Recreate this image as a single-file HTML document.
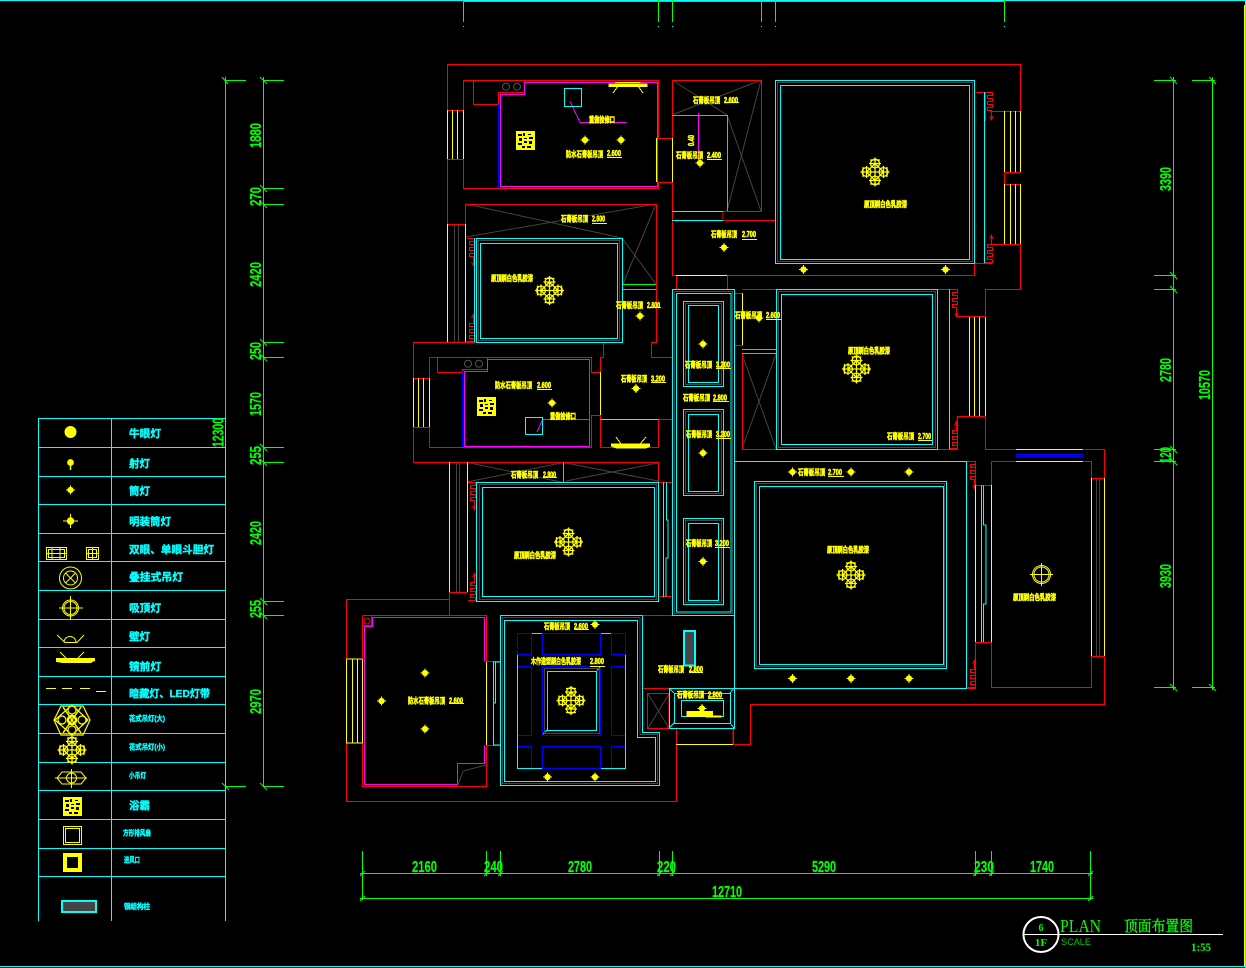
<!DOCTYPE html>
<html><head><meta charset="utf-8"><title>顶面布置图</title>
<style>
html,body{margin:0;padding:0;background:#000;width:1246px;height:968px;overflow:hidden}
svg{display:block}
.l{fill:none;shape-rendering:crispEdges;stroke-width:1}
.ge{shape-rendering:geometricPrecision}
text{font-family:"Liberation Sans","Noto Sans CJK SC",sans-serif}
.t{fill:#ff0;stroke:#ff0;stroke-width:.6;font-size:7.8px;font-weight:700}
.k{fill:#0ff;stroke:#0ff;stroke-width:.4;font-size:10.5px;font-weight:700}
.s{font-size:7.5px}
.g{fill:#0f0;stroke:#0f0;stroke-width:.2;font-family:"Liberation Serif","Noto Serif CJK SC",serif;font-size:16px;font-weight:700}
</style></head><body>
<svg width="1246" height="968" viewBox="0 0 1246 968" xmlns="http://www.w3.org/2000/svg">
<defs>
<g id="d" fill="#ff0" stroke="#ff0"><circle r="2.6"/><path d="M-4.5 0H4.5M0-4.5V4.5" fill="none"/></g>
<g id="c" fill="none" stroke="#ff0" stroke-width="1.3">
<circle cx="0" cy="-8.5" r="4.4"/><circle cx="0" cy="8.5" r="4.4"/><circle cx="-8.5" cy="0" r="4.4"/><circle cx="8.5" cy="0" r="4.4"/>
<path d="M-14.5 0H14.5M0-14.5V14.5M-6-8.5H6M-6 8.5H6M-8.5-6V6M8.5-6V6M-5-12H5M-5 12H5M-12-5V5M12-5V5M0-8.5L8.5 0L0 8.5L-8.5 0Z"/>
</g>
<g id="b"><rect width="19" height="19" fill="#ff0"/>
<path d="M2 3h4v2H2zM7 2h2v3H7zM12 3h3v1h-3zM13 6h4v2h-4zM3 7h3v3H3zM8 7h3v1H8zM8 10h3v2H8zM13 10h3v3h-3zM2 12h4v2H2zM6 15h3v2H6zM11 15h4v2h-4z" fill="#000"/></g>
<path id="w" d="M0 0.5H7.5V3.5H2.5V6.5H7.5V9.5H2.5V12.5H7.5V15.5H2.5V18.5H6.5V23M6.5 28V21M4.5 24L6.5 28L8 24" fill="none" stroke="#f00" class="l"/>
</defs>
<rect width="1246" height="968" fill="#000"/>

<!-- sheet edges -->
<path class="l" stroke="#0ff" d="M0 .5H1246M0 966.5H1246"/>
<path class="l" stroke="#ff0" d="M1244.5 5V966"/>
<path class="l" stroke="#0ff" d="M1245.5 0V968"/>
<path class="l" stroke="#0f0" d="M463 1.5H1005M463.5 0V22M658.5 0V22M672.5 0V22M761.5 0V22M775.5 0V22M1004.5 0V22"/>
<path class="l" stroke="#0ff" d="M463 26.5h1M658 26.5h1M672 26.5h1M761 26.5h1M775 26.5h1M1004 26.5h1"/>

<!-- gray structural -->
<path class="l ge" stroke="#444" d="M466 237L656 204M466 204L622 238M622 238L656 284M656 204L623 284M672 115L761 80M672 80L727 115M727 115L761 211M761 80L727 211M470 463L561 482M561 463L467 482M566 463L658 481M658 463L566 481M742 354L776 449M776 354L742 449M648 694L669 728M669 694L648 728M458 785L463 771L486 765"/>
<path class="l" stroke="#444" d="M454.5 224V342M458.5 224V342M456.5 462V592M459.5 462V592M1096.5 478V656M1099.5 478V656"/>
<circle cx="506" cy="86.7" r="3.5" fill="none" stroke="#555"/><circle cx="517" cy="86.7" r="3.5" fill="none" stroke="#555"/>
<circle cx="468" cy="363.7" r="3.5" fill="none" stroke="#555"/><circle cx="479" cy="363.7" r="3.5" fill="none" stroke="#555"/>

<!-- red walls -->
<path class="l" stroke="#f00" d="
M447.5 64.5H1020.5V111.5M1020.5 244.5V289.5H985.5V316.5M985.5 416.5V449.5H1016.5M1083.5 449.5H1104.5V478.5M1104.5 656.5V704.5H750.5V744.5H733.5V728.5
M676.5 728.5V801.5H346.5V599.5H449.5V592.5H467.5
M413.5 462.5H658.5V482.5H672M413.5 462.5V427.5H430M413.5 378.5V342.5H603.5V357.5H600.5V372.5M430 378.5H413.5
M447.5 64.5V110.5M447.5 159.5V224.5H465.5M447 110.5H463.5M447 159.5H463.5
M463.5 80.5V188.5H658.5V182.5H672.5M658.5 138.5H672.5M658.5 138.5V80.5H463.5M473.5 80.5V104.5H498.5V92.5H524.5V80.5
M465.5 204.5V238M465.5 204.5H656.5V342.5H651.5V357.5H672
M672.5 80.5H761.5V211.5H723V220.5H775M672.5 80.5V138M672.5 182V275.5H974.5V263.5M672.5 220.5V211.5
M676.5 275.5V289.5M727.5 275.5V289.5M742.5 289.5H776M937.5 289.5H950M742.5 293.5H735M742.5 345.5H735M742.5 353V449.5H776M937.5 449.5H957.5V416.5H985M957.5 316.5H985M975 92.5H985M992 111.5H1020.5M992 244.5H1020.5M975 263.5H992M1004.5 172.5H1020.5M1004.5 184.5H1020.5M985.5 92.5V121M1004.5 172.5V184.5
M429.5 357.5H591.5V372.5H600.5M429.5 357.5V447.5H591.5V415.5H600.5V447.5H658.5V419.5H672M437.5 357.5V372.5H462.5V369.5H487.5V357.5
M966.5 461.5H975.5M975.5 461.5V485.5H991.5M975.5 642.5H991.5M975.5 642.5V688.5H967M991.5 461.5H1016.5M1083.5 461.5H1091.5V478.5H1104.5M991.5 461.5V687.5H1091.5V656.5H1104.5
M658.5 596.5H672M642.5 615.5H672M642.5 688.5H669M647.5 693.5H669V728.5H647.5ZM676.5 728.5H669M449.5 599.5V615M362.5 615.5H486.5V661.5H500M486.5 745.5H500M486.5 745.5V786.5H362.5V615.5M362.5 625.5H371.5V615.5M733 744.5V728"/>
<circle cx="367" cy="621" r="3" fill="none" stroke="#f00"/>
<use href="#w" transform="translate(467,238)"/><use href="#w" transform="translate(467,342) scale(1,-1)"/>
<use href="#w" transform="translate(468,482)"/><use href="#w" transform="translate(468,601) scale(1,-1)"/>
<use href="#w" transform="translate(985,92)"/><use href="#w" transform="translate(985,263) scale(1,-1)"/>
<use href="#w" transform="translate(950,289)"/><use href="#w" transform="translate(950,449) scale(1,-1)"/>
<use href="#w" transform="translate(968,461)"/><use href="#w" transform="translate(968,688) scale(1,-1)"/>

<!-- yellow windows / doors -->
<path class="l" stroke="#ff0" d="M447.5 110V159M452.5 110V159M457.5 110V159M463.5 110V159
M447.5 224V342M465.5 224V342M449.5 462V592M467.5 462V592M413.5 378V427M418.5 378V427M423.5 378V427M429.5 378V427
M346.5 659V743M352.5 659V743M357.5 659V743M362.5 659V743H346M346 659H362
M656.5 138V182M672.5 138V182M589.5 372V415M600.5 372V415M486.5 662V745
M1004.5 111V172M1010.5 111V172M1015.5 111V172M1020.5 111V172M1004.5 184V244M1010.5 184V244M1015.5 184V244M1020.5 184V244
M969.5 317V416M974.5 317V416M979.5 317V416M985.5 317V416M742.5 293V345M676 275.5H727M975.5 485V642M991.5 485V642
M1016 449.5H1083M1016 461.5H1083M1091.5 478V656M1104.5 478V656M676 744.5H733"/>
<path class="l" stroke="#00f" d="M498.5 104V188M462.5 371V447M1016 454.5H1083M1016 456.5H1083"/>
<path class="l" stroke="#0f0" d="M623 284.5H656M623 289.5H656M672 115.5H727.5V211M742 349.5H776M742 353.5H776M563.5 462V482"/>

<!-- magenta -->
<path class="l" stroke="#f0f" d="M500.5 94.5V186.5H657.5V82.5H524.5V94.5ZM570 101L580 122.5H626.5M464.5 371.5V446.5H589.5V359.5H487.5V371.5ZM543 419.5H589M543 419L537 432M698.5 113V163M364.5 626.5V784.5H457.5V763.5H484.5V745.5M484.5 661.5V617.5H372.5V626.5H364.5"/>

<!-- cyan ceilings -->
<g class="l" stroke="#0ff">
<rect x="564.5" y="88.5" width="17" height="18"/>
<rect x="525.5" y="417.5" width="17" height="17"/>
<path d="M600.5 419.5H658.5M672 211.5H723M672 220.5H723M984.5 92V263M949.5 289V449M474.5 238V342"/>
<rect x="476.5" y="238.5" width="146" height="104"/><rect x="480.5" y="243.5" width="137" height="95"/>
<rect x="775.5" y="80.5" width="199" height="183"/><rect x="780.5" y="85.5" width="189" height="174"/>
<rect x="776.5" y="289.5" width="161" height="160"/><rect x="781.5" y="294.5" width="151" height="150"/>
<rect x="476.5" y="482.5" width="182" height="119"/><rect x="482.5" y="487.5" width="172" height="109"/>
<rect x="754.5" y="481.5" width="192" height="187"/><rect x="759.5" y="486.5" width="184" height="178"/>
<path d="M735 461.5H966.5V688.5H735M663.5 482V597M666.5 482V520H668V558H666V597M981.5 485V642M983.5 485V525H986V604H983.5V642"/>
<path d="M672.5 289.5H734.5V615.5H672.5ZM676.5 293.5H731V612H676.5Z"/>
<rect x="683.5" y="301.5" width="40" height="85"/><rect x="688.5" y="305.5" width="30" height="77"/>
<rect x="683.5" y="409.5" width="40" height="86"/><rect x="688.5" y="414.5" width="30" height="77"/>
<rect x="683.5" y="518.5" width="40" height="86"/><rect x="688.5" y="523.5" width="30" height="77"/>
<path d="M500.5 615.5H642.5V732.5H659.5V785.5H500.5ZM504.5 620.5H637.5V737.5H655.5V781.5H504.5ZM493.5 662V745M495.5 662V703H493.5M500 662H493M500 745H493"/>
<rect x="517.5" y="633.5" width="108" height="135"/>
<rect x="547.5" y="671.5" width="49" height="59"/>
<path d="M542 735L547 730M600 667L596 672"/>
<path d="M734.5 615V688"/>
<rect x="669.5" y="688.5" width="65" height="40"/><rect x="674.5" y="693.5" width="56" height="30"/><rect x="681.5" y="700.5" width="42" height="16"/>
<path d="M669 688L674 693M734 688L730 693M669 728L674 723M734 728L730 723"/>
</g>
<g class="l" stroke="#444">
<rect x="478.5" y="240.5" width="141" height="100"/><rect x="777.5" y="82.5" width="195" height="179"/><rect x="778.5" y="291.5" width="157" height="156"/>
<rect x="479.5" y="484.5" width="177" height="115"/><rect x="756.5" y="483.5" width="188" height="183"/>
<rect x="685.5" y="303.5" width="36" height="81"/><rect x="685.5" y="411.5" width="36" height="82"/><rect x="685.5" y="520.5" width="36" height="82"/>
<path d="M674.5 291.5H732.5V613.5H674.5ZM502.5 617.5H640V734.5H657.5V783.5H502.5Z"/>
<rect x="544.5" y="668.5" width="55" height="65"/>
</g>
<g class="l" stroke="#00f">
<rect x="517.5" y="633.5" width="14" height="21"/><rect x="542.5" y="633.5" width="58" height="21"/><rect x="611.5" y="633.5" width="14" height="21"/>
<path d="M518 666.5H531.5V735.5H518M625 666.5H611.5V735.5H625M518 746.5H531.5V768M625 746.5H611.5V768"/>
<rect x="542.5" y="666.5" width="58" height="69"/><rect x="542.5" y="746.5" width="58" height="22"/>
</g>
<rect x="684" y="631" width="11" height="34.5" fill="#444" stroke="#0ff" stroke-width="2" shape-rendering="crispEdges"/>

<!-- fixtures -->
<g fill="#ff0" stroke="#ff0">
<rect x="609" y="84" width="38" height="2.5"/><path class="l" d="M615 82.5H640.5M618 86L613 93M638 86L643 93"/>
<path d="M611.5 444h38v2.5l-4 1.5h-29l-5-2z"/><path class="l" d="M616 437L621 444M646 437L640 444"/>
<rect x="687" y="711.5" width="25.5" height="5"/><rect x="706" y="716" width="15" height="1"/>
</g>
<use href="#b" x="516" y="131"/><use href="#b" x="477" y="397"/>
<use href="#c" x="549.5" y="290.5"/><use href="#c" x="875" y="172"/><use href="#c" x="856.5" y="369"/><use href="#c" x="568.5" y="542"/><use href="#c" x="851" y="575"/><use href="#c" x="571" y="700.5"/>
<g fill="none" stroke="#ff0"><circle cx="1041.5" cy="574.5" r="9"/><circle cx="1041.5" cy="574.5" r="7.5"/><path d="M1030 574.5H1053M1041.5 563V586"/></g>
<use href="#d" x="585" y="140"/><use href="#d" x="621" y="140"/><use href="#d" x="640" y="316"/><use href="#d" x="700" y="163"/><use href="#d" x="724" y="247.5"/><use href="#d" x="803.5" y="269.5"/><use href="#d" x="945.5" y="269.5"/><use href="#d" x="552" y="403"/><use href="#d" x="636" y="388.5"/><use href="#d" x="703" y="344"/><use href="#d" x="703" y="453"/><use href="#d" x="703" y="561.5"/><use href="#d" x="759" y="318"/><use href="#d" x="792.5" y="472"/><use href="#d" x="851" y="472"/><use href="#d" x="909" y="472"/><use href="#d" x="792.5" y="678.5"/><use href="#d" x="851" y="678.5"/><use href="#d" x="909" y="678.5"/><use href="#d" x="425" y="673"/><use href="#d" x="381.5" y="701"/><use href="#d" x="425" y="729"/><use href="#d" x="595" y="624.5"/><use href="#d" x="547.5" y="777"/><use href="#d" x="595" y="777"/><use href="#d" x="702" y="708.5"/>

<!-- yellow labels -->
<g class="t">
<text x="589" y="122.5" textLength="26" lengthAdjust="spacingAndGlyphs">重做检修口</text>
<text x="566" y="157" textLength="37" lengthAdjust="spacingAndGlyphs">防水石膏板吊顶</text><text x="607" y="156" textLength="14" lengthAdjust="spacingAndGlyphs">2.600</text>
<text x="561" y="221.5" textLength="27" lengthAdjust="spacingAndGlyphs">石膏板吊顶</text><text x="592" y="221.5" textLength="13" lengthAdjust="spacingAndGlyphs">2.600</text>
<text x="491" y="281" textLength="42" lengthAdjust="spacingAndGlyphs">原顶刷白色乳胶漆</text>
<text x="616" y="308" textLength="27" lengthAdjust="spacingAndGlyphs">石膏板吊顶</text><text x="647" y="308" textLength="13" lengthAdjust="spacingAndGlyphs">2.600</text>
<text x="693" y="103" textLength="27" lengthAdjust="spacingAndGlyphs">石膏板吊顶</text><text x="724" y="103" textLength="14" lengthAdjust="spacingAndGlyphs">2.600</text>
<text x="676" y="158" textLength="27" lengthAdjust="spacingAndGlyphs">石膏板吊顶</text><text x="707" y="158" textLength="14" lengthAdjust="spacingAndGlyphs">2.400</text>
<text x="711" y="237" textLength="26" lengthAdjust="spacingAndGlyphs">石膏板吊顶</text><text x="742" y="237" textLength="14" lengthAdjust="spacingAndGlyphs">2.700</text>
<text x="864" y="207" textLength="43" lengthAdjust="spacingAndGlyphs">原顶刷白色乳胶漆</text>
<text x="735" y="318" textLength="27" lengthAdjust="spacingAndGlyphs">石膏板吊顶</text><text x="766" y="318" textLength="14" lengthAdjust="spacingAndGlyphs">2.600</text>
<text x="848" y="353.5" textLength="42" lengthAdjust="spacingAndGlyphs">原顶刷白色乳胶漆</text>
<text x="887" y="439" textLength="27" lengthAdjust="spacingAndGlyphs">石膏板吊顶</text><text x="918" y="439" textLength="13" lengthAdjust="spacingAndGlyphs">2.700</text>
<text x="495" y="388" textLength="37" lengthAdjust="spacingAndGlyphs">防水石膏板吊顶</text><text x="537" y="388" textLength="14" lengthAdjust="spacingAndGlyphs">2.600</text>
<text x="550" y="419" textLength="26" lengthAdjust="spacingAndGlyphs">重做检修口</text>
<text x="621" y="381.5" textLength="26" lengthAdjust="spacingAndGlyphs">石膏板吊顶</text><text x="651" y="381.5" textLength="14" lengthAdjust="spacingAndGlyphs">3.200</text>
<text x="685" y="367.5" textLength="27" lengthAdjust="spacingAndGlyphs">石膏板吊顶</text><text x="716" y="367.5" textLength="14" lengthAdjust="spacingAndGlyphs">3.200</text>
<text x="683" y="400.5" textLength="27" lengthAdjust="spacingAndGlyphs">石膏板吊顶</text><text x="713" y="400.5" textLength="14" lengthAdjust="spacingAndGlyphs">2.800</text>
<text x="686" y="437" textLength="26" lengthAdjust="spacingAndGlyphs">石膏板吊顶</text><text x="716" y="437" textLength="14" lengthAdjust="spacingAndGlyphs">3.200</text>
<text x="686" y="546" textLength="26" lengthAdjust="spacingAndGlyphs">石膏板吊顶</text><text x="715" y="546" textLength="14" lengthAdjust="spacingAndGlyphs">3.200</text>
<text x="511" y="477.5" textLength="27" lengthAdjust="spacingAndGlyphs">石膏板吊顶</text><text x="543" y="477.5" textLength="13" lengthAdjust="spacingAndGlyphs">2.800</text>
<text x="514" y="558" textLength="42" lengthAdjust="spacingAndGlyphs">原顶刷白色乳胶漆</text>
<text x="798" y="475" textLength="27" lengthAdjust="spacingAndGlyphs">石膏板吊顶</text><text x="828" y="475" textLength="14" lengthAdjust="spacingAndGlyphs">2.700</text>
<text x="827" y="552.5" textLength="42" lengthAdjust="spacingAndGlyphs">原顶刷白色乳胶漆</text>
<text x="1013" y="600" textLength="43" lengthAdjust="spacingAndGlyphs">原顶刷白色乳胶漆</text>
<text x="408" y="703.5" textLength="37" lengthAdjust="spacingAndGlyphs">防水石膏板吊顶</text><text x="449" y="703.5" textLength="14" lengthAdjust="spacingAndGlyphs">2.600</text>
<text x="544" y="629" textLength="26" lengthAdjust="spacingAndGlyphs">石膏板吊顶</text><text x="574" y="629" textLength="14" lengthAdjust="spacingAndGlyphs">2.600</text>
<text x="531" y="664" textLength="50" lengthAdjust="spacingAndGlyphs">木作造型刷白色乳胶漆</text><text x="590" y="664" textLength="14" lengthAdjust="spacingAndGlyphs">2.800</text>
<text x="658" y="672" textLength="26" lengthAdjust="spacingAndGlyphs">石膏板吊顶</text><text x="689" y="672" textLength="14" lengthAdjust="spacingAndGlyphs">2.800</text>
<text x="677" y="697.5" textLength="27" lengthAdjust="spacingAndGlyphs">石膏板吊顶</text><text x="708" y="697.5" textLength="14" lengthAdjust="spacingAndGlyphs">2.800</text>
<text transform="translate(694,146) rotate(-90)" textLength="11" lengthAdjust="spacingAndGlyphs">0.40</text>
</g>
<path class="l" stroke="#ff0" d="M607 157.5H622M592 223.5H607M647 307.5H661M724 102.5H739M707 159.5H722M742 239.5H757M766 319.5H781M918 440.5H932M537 389.5H552M651 382.5H666M716 368.5H731M713 401.5H729M716 438.5H731M715 547.5H730M543 477.5H557M828 476.5H844M449 703.5H464M574 629.5H589M590 666.5H605M689 672.5H703M708 698.5H723"/>

<!-- legend -->
<path class="l" stroke="#0ff" d="M38.5 418.5H225.5M38.5 418V921M111.5 418V921M225.5 418V921M38 447.5H226M38 476.5H226M38 504.5H226M38 533.5H226M38 561.5H226M38 590.5H226M38 619.5H226M38 647.5H226M38 676.5H226M38 704.5H226M38 733.5H226M38 762.5H226M38 790.5H226M38 819.5H226M38 848.5H226M38 876.5H226"/>
<g class="k">
<text x="129" y="437" textLength="32" lengthAdjust="spacingAndGlyphs">牛眼灯</text>
<text x="129" y="467" textLength="21" lengthAdjust="spacingAndGlyphs">射灯</text>
<text x="129" y="494.5" textLength="21" lengthAdjust="spacingAndGlyphs">筒灯</text>
<text x="129" y="525" textLength="42" lengthAdjust="spacingAndGlyphs">明装筒灯</text>
<text x="129" y="553" textLength="85" lengthAdjust="spacingAndGlyphs">双眼、单眼斗胆灯</text>
<text x="129" y="580.5" textLength="54" lengthAdjust="spacingAndGlyphs">叠挂式吊灯</text>
<text x="129" y="611.5" textLength="32" lengthAdjust="spacingAndGlyphs">吸顶灯</text>
<text x="129" y="640" textLength="21" lengthAdjust="spacingAndGlyphs">壁灯</text>
<text x="129" y="670" textLength="32" lengthAdjust="spacingAndGlyphs">镜前灯</text>
<text x="129" y="697" textLength="81" lengthAdjust="spacingAndGlyphs">暗藏灯、LED灯带</text>
<text class="s" x="129" y="721" textLength="36" lengthAdjust="spacingAndGlyphs">花式吊灯(大)</text>
<text class="s" x="129" y="749.5" textLength="36" lengthAdjust="spacingAndGlyphs">花式吊灯(小)</text>
<text class="s" x="129" y="778" textLength="17" lengthAdjust="spacingAndGlyphs">小吊灯</text>
<text x="129" y="809" textLength="21" lengthAdjust="spacingAndGlyphs">浴霸</text>
<text class="s" x="123" y="835.5" textLength="28" lengthAdjust="spacingAndGlyphs">方形排风扇</text>
<text class="s" x="124" y="862.5" textLength="16" lengthAdjust="spacingAndGlyphs">进风口</text>
<text class="s" x="124" y="909" textLength="26" lengthAdjust="spacingAndGlyphs">钢结构柱</text>
</g>
<g fill="#ff0" stroke="#ff0">
<circle cx="70.5" cy="432" r="5.5"/>
<circle cx="70.5" cy="462.5" r="2.6" stroke-width="1.5"/><path d="M70.5 465V470" fill="none" stroke-width="1.4"/>
<use href="#d" x="70.5" y="490"/>
<circle cx="70.5" cy="521" r="3.2"/><path d="M63 521H78M70.5 514V528" fill="none"/>
<g fill="none">
<rect x="46.5" y="547.5" width="20" height="12"/><rect x="48.5" y="549.5" width="16" height="8"/><path d="M52 548V559M60 548V559M47 553.5H66"/>
<rect x="86.5" y="547.5" width="12" height="12"/><rect x="88.5" y="549.5" width="8" height="8"/><path d="M92.5 548V559M87 553.5H98"/>
<circle cx="70.5" cy="578" r="11"/><circle cx="70.5" cy="578" r="7"/><path d="M65.5 573L75.5 583M75.5 573L65.5 583"/>
<circle cx="70.5" cy="608" r="8"/><circle cx="70.5" cy="608" r="6.5"/><path d="M59 608H83M70.5 596V620"/>
<path d="M57 635L65 642.5H77L84 635M64 642.5A6 6 0 0 1 76 642.5"/>
<path d="M60 652L66 658M84 652L78 658"/>
</g>
<path d="M56.5 658.5h38v2l-4 2h-28l-6-1z"/>
</g>
<use href="#b" x="63" y="797"/>
<g class="l" stroke="#ff0"><path d="M46 688.5H56M62 688.5H72M80 688.5H90M96 691.5H106"/><rect x="63.5" y="826.5" width="18" height="18"/><rect x="65.5" y="828.5" width="14" height="14"/></g>
<rect x="63" y="853" width="19" height="19" fill="#ff0"/><rect x="67" y="857" width="11" height="11" fill="#000"/>
<rect x="62" y="901" width="34" height="11" fill="#444" stroke="#0ff" stroke-width="2" shape-rendering="crispEdges"/>
<g fill="none" stroke="#ff0" stroke-width="1.2">
<path d="M72 705L88 720L72 735L55 720Z M61 706H83L90 720L83 735H61L54 720Z"/>
<circle cx="72" cy="710" r="4"/><circle cx="72" cy="730" r="4"/><circle cx="62" cy="720" r="4"/><circle cx="82" cy="720" r="4"/><circle cx="72" cy="720" r="4" stroke-width="2.5"/>
<path d="M63 707L81 733M81 707L63 733" stroke-width="1.5"/>
</g>
<use href="#c" x="72" y="750"/>
<g fill="none" stroke="#ff0"><path d="M55 778H87M71.5 769V788M62 772H81L86 778L81 784H62L57 778Z"/><circle cx="71.5" cy="778" r="5"/></g>

<!-- dimensions -->
<path class="l" stroke="#0f0" d="M225.5 77V418M225 80.5H246M263.5 77V787M263 80.5H284M263 188.5H284M263 204.5H284M263 342.5H284M263 357.5H284M263 447.5H284M263 462.5H284M263 601.5H284M263 615.5H284M263 786.5H284M225 786.5H246
M1173.5 77V690M1154 80.5H1176M1154 275.5H1176M1154 289.5H1176M1154 449.5H1176M1154 461.5H1176M1154 687.5H1176M1212.5 77V690M1192 80.5H1215M1192 687.5H1215
M360 873.5H1093M360 898.5H1093M362.5 851V900M486.5 851V876M500.5 851V876M659.5 851V876M672.5 851V876M975.5 851V876M991.5 851V876M1090.5 851V900"/>
<path fill="none" stroke="#0f0" class="ge" d="M222 77L228 84M260 77L267 84M260 185L267 192M260 201L267 208M260 339L267 346M260 354L267 361M260 444L267 451M260 459L267 466M260 598L267 605M260 612L267 619M260 783L267 790M222 783L229 790M1170 77L1177 84M1170 272L1177 279M1170 286L1177 293M1170 446L1177 453M1170 458L1177 465M1170 684L1177 691M1209 77L1216 84M1209 684L1216 691M360 876L365 871M484 876L489 871M498 876L503 871M657 876L662 871M670 876L675 871M973 876L978 871M989 876L994 871M1088 876L1093 871M360 901L365 896M1088 901L1093 896"/>
<g class="g">
<text transform="translate(261,148) rotate(-90)" textLength="25" lengthAdjust="spacingAndGlyphs">1880</text>
<text transform="translate(261,206) rotate(-90)" textLength="19" lengthAdjust="spacingAndGlyphs">270</text>
<text transform="translate(261,287) rotate(-90)" textLength="25" lengthAdjust="spacingAndGlyphs">2420</text>
<text transform="translate(261,360) rotate(-90)" textLength="18" lengthAdjust="spacingAndGlyphs">250</text>
<text transform="translate(261,416) rotate(-90)" textLength="24" lengthAdjust="spacingAndGlyphs">1570</text>
<text transform="translate(261,465) rotate(-90)" textLength="19" lengthAdjust="spacingAndGlyphs">255</text>
<text transform="translate(261,545) rotate(-90)" textLength="24" lengthAdjust="spacingAndGlyphs">2420</text>
<text transform="translate(261,618) rotate(-90)" textLength="18" lengthAdjust="spacingAndGlyphs">255</text>
<text transform="translate(261,714) rotate(-90)" textLength="25" lengthAdjust="spacingAndGlyphs">2970</text>
<text transform="translate(223.5,447) rotate(-90)" textLength="29" lengthAdjust="spacingAndGlyphs">12300</text>
<text transform="translate(1171,191) rotate(-90)" textLength="24" lengthAdjust="spacingAndGlyphs">3390</text>
<text transform="translate(1171,382) rotate(-90)" textLength="24" lengthAdjust="spacingAndGlyphs">2780</text>
<text transform="translate(1171,463) rotate(-90)" textLength="16" lengthAdjust="spacingAndGlyphs">120</text>
<text transform="translate(1171,588) rotate(-90)" textLength="24" lengthAdjust="spacingAndGlyphs">3930</text>
<text transform="translate(1210,400) rotate(-90)" textLength="30" lengthAdjust="spacingAndGlyphs">10570</text>
<text x="412" y="872" textLength="25" lengthAdjust="spacingAndGlyphs">2160</text>
<text x="484" y="872" textLength="19" lengthAdjust="spacingAndGlyphs">240</text>
<text x="568" y="872" textLength="24" lengthAdjust="spacingAndGlyphs">2780</text>
<text x="657" y="872" textLength="19" lengthAdjust="spacingAndGlyphs">220</text>
<text x="812" y="872" textLength="24" lengthAdjust="spacingAndGlyphs">5290</text>
<text x="974" y="872" textLength="20" lengthAdjust="spacingAndGlyphs">230</text>
<text x="1030" y="872" textLength="24" lengthAdjust="spacingAndGlyphs">1740</text>
<text x="712" y="897" textLength="30" lengthAdjust="spacingAndGlyphs">12710</text>
</g>

<!-- title block -->
<ellipse cx="1041" cy="934.5" rx="17.5" ry="17.5" fill="none" stroke="#fff" stroke-width="2"/>
<path class="l" stroke="#fff" d="M1023 934.5H1223"/>
<text x="1041" y="931" text-anchor="middle" fill="#0f0" font-size="10" style="font-family:'Liberation Serif',serif;font-weight:700">6</text>
<text x="1041" y="946" text-anchor="middle" fill="#0f0" font-size="11" style="font-family:'Liberation Serif',serif;font-weight:700">1F</text>
<text x="1060" y="932" fill="#0f0" font-size="18" textLength="41" lengthAdjust="spacingAndGlyphs" style="font-family:'Liberation Serif',serif">PLAN</text>
<text x="1124" y="931" fill="#0f0" stroke="#0f0" stroke-width=".4" font-size="15" textLength="69" lengthAdjust="spacingAndGlyphs" style="font-family:'Liberation Serif','Noto Serif CJK SC',serif">顶面布置图</text>
<text x="1061" y="945" fill="#0c0" font-size="9.5" textLength="30" lengthAdjust="spacingAndGlyphs">SCALE</text>
<text x="1191" y="951" fill="#0f0" font-size="12" font-weight="700" textLength="20" lengthAdjust="spacingAndGlyphs" style="font-family:'Liberation Serif',serif">1:55</text>
</svg>
</body></html>
